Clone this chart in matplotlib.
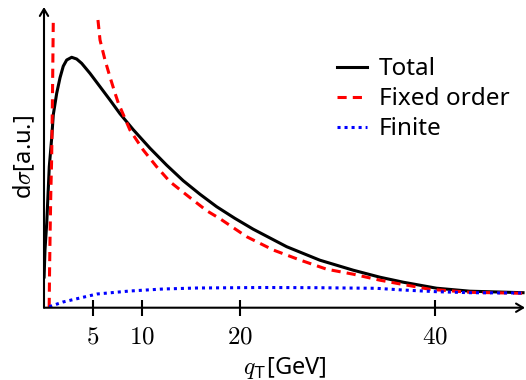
import matplotlib.pyplot as plt
import numpy as np

plt.rcParams['mathtext.fontset'] = 'cm'
plt.rcParams['font.family'] = ['Noto Sans', 'DejaVu Sans']

# q_T en GeV, dsigma en unidades arbitrarias
q_total = [0.01, 0.10, 0.28, 0.54, 0.79, 0.95, 1.30, 1.64, 1.97, 2.32, 2.83, 3.34,
           3.85, 4.70, 5.73, 6.75, 7.77, 9.13, 10.84, 12.55, 14.24, 15.95, 17.66,
           19.5, 21.40, 24.82, 28.22, 31.63, 34.36, 36.74, 40.15, 43.56, 49.0]
y_total = [30.7, 57.7, 84.7, 141.0, 170.0, 193.0, 214.5, 230.0, 241.5, 247.7, 250.4,
           248.7, 244.4, 234.4, 221.0, 207.7, 194.0, 178.0, 159.5, 142.5, 127.0,
           113.5, 101.0, 89.5, 78.5, 61.0, 47.5, 37.5, 30.5, 25.5, 19.5, 16.5, 15.0]

# orden fijo: rama de q pequeño y rama de q grande (cortadas arriba)
q_fixed = [0.53, 0.57, 0.63, 0.70, 0.78, 0.85, 0.90, 0.95, np.nan,
           5.52, 5.73, 6.24, 6.75, 7.26, 7.60, 8.79, 10.15, 11.52, 12.88, 14.59,
           16.64, 18.0, 20.73, 23.45, 26.18, 28.91, 31.63, 34.36, 36.06, 39.47,
           43.56, 49.0]
y_fixed = [0.7, 37.7, 77.7, 116.7, 147.7, 197.7, 240.7, 287.7, np.nan,
           287.7, 267.7, 247.7, 230.7, 214.7, 204.7, 177.7, 157.7, 141.0, 126.0,
           112.7, 97.0, 89.0, 71.0, 57.7, 47.7, 38.5, 33.5, 27.5, 24.4, 18.4,
           15.4, 14.4]

q_finite = [0.54, 1.94, 5.42, 8.79, 12.17, 15.64, 22.39, 27.9, 34.0, 36.7, 40.15,
            43.56, 49.0]
y_finite = [1.0, 5.7, 13.7, 16.7, 18.7, 19.7, 20.2, 20.0, 19.4, 17.7, 16.0, 15.0, 14.7]

xticks = [5, 10, 20, 40]

fig = plt.figure(figsize=(5.26, 3.8), dpi=100)
ax = fig.add_axes([44/526, 72.3/380, 481/526, 300.7/380])

ax.plot(q_total, y_total, color='black', lw=2.2, label='Total')
ax.plot(q_fixed, y_fixed, color='red', lw=2.2, dashes=(3, 2), label='Fixed order')
ax.plot(q_finite, y_finite, color='blue', lw=2.2, dashes=(1, 1.3), label='Finite')

ax.set_xlim(0, 49.2)
ax.set_ylim(0, 300.7)

# ejes con flechas
for s in ax.spines.values():
    s.set_visible(False)
arrow = dict(arrowstyle='->,head_length=0.5,head_width=0.3', lw=1.5, color='black',
             shrinkA=0, shrinkB=0)
ax.annotate('', xy=(1, 0), xytext=(0, 0), xycoords='axes fraction', arrowprops=arrow)
ax.annotate('', xy=(0, 1), xytext=(0, 0), xycoords='axes fraction', arrowprops=arrow)

ax.set_yticks([])
ax.set_xticks(xticks)
ax.set_xticklabels(['$%d$' % t for t in xticks], fontsize=18)
ax.tick_params(axis='x', direction='inout', length=12, width=1.5, pad=6)

ax.set_xlabel(r'$q_{\mathsf{T}}$[GeV]', fontsize=17, labelpad=4)
ax.set_ylabel(r'd$\sigma$[a.u.]', fontsize=17)
ax.yaxis.set_label_coords(-0.015, 0.5)

ax.legend(loc='upper left', bbox_to_anchor=(0.61, 0.833), frameon=False, fontsize=17.5,
          handlelength=1.2, handletextpad=0.5, labelspacing=0.25,
          borderpad=0, borderaxespad=0)

fig.savefig('out.png', dpi=100)
